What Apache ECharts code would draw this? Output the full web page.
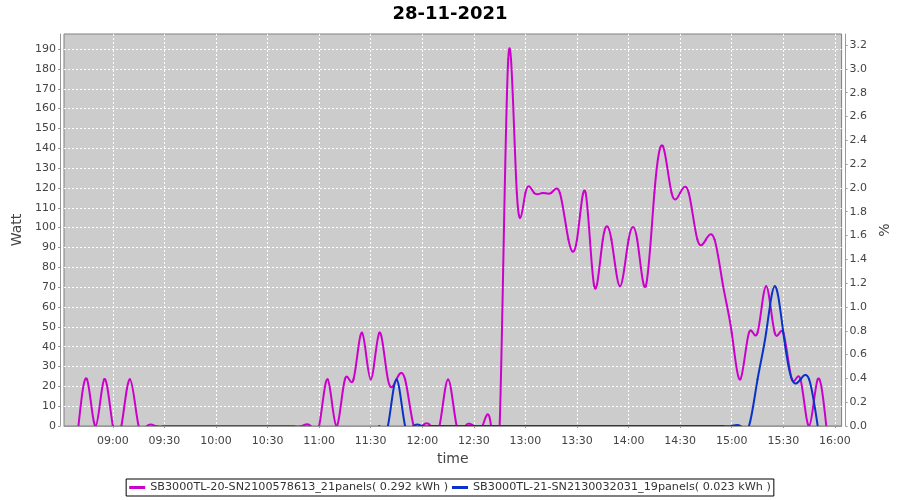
<!DOCTYPE html>
<html>
<head>
<meta charset="utf-8">
<script src="https://cdn.jsdelivr.net/npm/echarts@6/dist/echarts.min.js"></script>
<style>
html,body{margin:0;padding:0;background:#fff;}
#chart{width:900px;height:500px;}
</style>
</head>
<body>
<div id="chart"></div>
<script>
// ---- data ----
const times = [
  '08:40','08:45','08:50','08:55','09:00','09:05','09:10','09:15','09:20','09:25',
  '09:30','09:35','09:40','09:45','09:50','09:55','10:00','10:05','10:10','10:15',
  '10:20','10:25','10:30','10:35','10:40','10:45','10:50','10:55','11:00','11:05',
  '11:10','11:15','11:20','11:25','11:30','11:35','11:40','11:45','11:50','11:55',
  '12:00','12:05','12:10','12:15','12:20','12:25','12:30','12:35','12:40','12:45',
  '12:50','12:55','13:00','13:05','13:10','13:15','13:20','13:25','13:30','13:35',
  '13:40','13:45','13:50','13:55','14:00','14:05','14:10','14:15','14:20','14:25',
  '14:30','14:35','14:40','14:45','14:50','14:55','15:00','15:05','15:10','15:15',
  '15:20','15:25','15:30','15:35','15:40','15:45','15:50','15:55'
];
const inverter20 = [
  0,23.5,0,23.5,0,0,23.5,0,0,0,
  0,0,0,0,0,0,0,0,0,0,
  0,0,0,0,0,0,0,0,0,23.5,
  0,23.5,23.5,47,23.5,47,23.5,23.5,23.5,0,
  0,0,0,23.5,0,0,0,0,0,0,
  185,117.5,117.5,117.5,117.5,117.5,117.5,94,94,117.5,
  70.5,94,94,70.5,94,94,70.5,117.5,141,117.5,
  117.5,117.5,94,94,94,70.5,47,23.5,47,47,
  70.5,47,47,23.5,23.5,0,23.5,0
];
const inverter21 = [
  null,null,null,null,null,null,null,null,null,null,
  null,null,null,null,null,null,null,null,null,null,
  null,null,null,null,null,null,null,null,null,null,
  null,null,null,null,null,0,0,23.5,0,0,
  0,0,0,0,0,0,0,0,0,0,
  0,0,0,0,0,0,0,0,0,0,
  0,0,0,0,0,0,0,0,0,0,
  0,0,0,0,0,0,0,0,0,23.5,
  47,70.5,47,23.5,23.5,23.5,0,null
];
const seriesNames = [
  'SB3000TL-20-SN2100578613_21panels( 0.292 kWh )',
  'SB3000TL-21-SN2130032031_19panels( 0.023 kWh )'
];
const seriesColors = ['#cc00cc', '#0a32c8'];
const xTickLabels = ['09:00','09:30','10:00','10:30','11:00','11:30','12:00','12:30','13:00','13:30','14:00','14:30','15:00','15:30','16:00'];
const wattTicks = [0,10,20,30,40,50,60,70,80,90,100,110,120,130,140,150,160,170,180,190];
const pctTicks = [0,0.2,0.4,0.6,0.8,1.0,1.2,1.4,1.6,1.8,2.0,2.2,2.4,2.6,2.8,3.0,3.2];
const titleText = '28-11-2021';

// ---- helpers ----
function toMin(s){ const p = s.split(':'); return (+p[0])*60 + (+p[1]); }
function pad(n){ return (n<10?'0':'') + n; }
function fmtMin(v){ const m = Math.round(v); return pad(Math.floor(m/60)) + ':' + pad(m%60); }
function pairs(vals){
  const out = [];
  for (let i=0;i<times.length;i++){ if (vals[i] !== null && vals[i] !== undefined) out.push([toMin(times[i]), vals[i]]); }
  return out;
}
// natural cubic spline (x-parameterised), expressed as cubic Bezier control points per segment
function splineSegments(pts){
  const n = pts.length;
  const x = pts.map(p => p[0]), y = pts.map(p => p[1]);
  const h = [];
  for (let i=0;i<n-1;i++) h.push(x[i+1]-x[i]);
  const M = new Array(n).fill(0);
  if (n > 2) {
    const m = n-2;
    const a = new Array(m), b = new Array(m), c = new Array(m), d = new Array(m);
    for (let k=0;k<m;k++){
      const i = k+1;
      a[k] = h[i-1]/6; b[k] = (h[i-1]+h[i])/3; c[k] = h[i]/6;
      d[k] = (y[i+1]-y[i])/h[i] - (y[i]-y[i-1])/h[i-1];
    }
    for (let k=1;k<m;k++){
      const w = a[k]/b[k-1];
      b[k] -= w*c[k-1]; d[k] -= w*d[k-1];
    }
    const sol = new Array(m);
    sol[m-1] = d[m-1]/b[m-1];
    for (let k=m-2;k>=0;k--) sol[k] = (d[k]-c[k]*sol[k+1])/b[k];
    for (let k=0;k<m;k++) M[k+1] = sol[k];
  }
  const segs = [];
  for (let i=0;i<n-1;i++){
    const hi = h[i];
    const sl = (y[i+1]-y[i])/hi;
    const s0 = sl - hi*(2*M[i] + M[i+1])/6;
    const s1 = sl + hi*(M[i] + 2*M[i+1])/6;
    segs.push({
      p0: [x[i], y[i]],
      c1: [x[i] + hi/3, y[i] + hi*s0/3],
      c2: [x[i+1] - hi/3, y[i+1] - hi*s1/3],
      p1: [x[i+1], y[i+1]]
    });
  }
  return segs;
}
function splineSeries(name, vals, color){
  const pts = pairs(vals);
  const segs = splineSegments(pts);
  return {
    name: name, type: 'custom', coordinateSystem: 'cartesian2d',
    xAxisIndex: 0, yAxisIndex: 0, clip: true,
    data: pts, encode: {x: 0, y: 1},
    itemStyle: {color: color},
    renderItem: function(params, api){
      const s = segs[params.dataIndex];
      if (!s) return null;
      const a = api.coord(s.p0), b = api.coord(s.p1), c = api.coord(s.c1), d = api.coord(s.c2);
      return {
        type: 'bezierCurve',
        shape: {x1: a[0], y1: a[1], x2: b[0], y2: b[1], cpx1: c[0], cpy1: c[1], cpx2: d[0], cpy2: d[1]},
        style: {stroke: color, lineWidth: 2, fill: null, lineCap: 'round'}
      };
    }
  };
}
const xTickVals = xTickLabels.map(toMin);
const WATT_MAX = 197.6;
const X_MIN = 511.6, X_MAX = 963.9;
const FONT = 'DejaVu Sans';

const chart = echarts.init(document.getElementById('chart'), null, {renderer:'canvas'});
chart.setOption({
  animation: false,
  backgroundColor: '#ffffff',
  title: {
    text: titleText, left: 'center', top: 0,
    textStyle: {fontSize: 18, fontWeight: 'bold', fontFamily: FONT, color: '#000'}
  },
  grid: {
    left: 64, right: 56.5, top: 34, bottom: 74,
    show: true, backgroundColor: '#cccccc', borderColor: '#808080', borderWidth: 1,
    containLabel: false
  },
  legend: {
    bottom: 4, left: 'center',
    data: seriesNames,
    icon: 'rect', itemWidth: 16, itemHeight: 3, itemGap: 4,
    borderColor: '#000', borderWidth: 1, padding: [3, 3],
    textStyle: {fontSize: 11.2, fontFamily: FONT, color: '#333'}
  },
  xAxis: {
    type: 'value', min: X_MIN, max: X_MAX, offset: 4,
    name: 'time', nameLocation: 'middle', nameGap: 22,
    nameTextStyle: {fontSize: 14, fontFamily: FONT, color: '#444'},
    axisLine: {show: true, lineStyle: {color: '#999'}},
    axisTick: {show: true, length: 2, customValues: xTickVals, lineStyle: {color: '#999'}},
    axisLabel: {customValues: xTickVals, formatter: fmtMin, margin: 6, fontSize: 11, fontFamily: FONT, color: '#444'},
    splitLine: {show: true, lineStyle: {color: '#ffffff', type: [2, 2], width: 1}}
  },
  yAxis: [
    {
      type: 'value', position: 'left', min: 0, max: WATT_MAX, offset: 4,
      name: 'Watt', nameLocation: 'middle', nameGap: 29, nameRotate: 90,
      nameTextStyle: {fontSize: 14, fontFamily: FONT, color: '#444'},
      axisLine: {show: true, lineStyle: {color: '#999'}},
      axisTick: {show: true, length: 2, customValues: wattTicks, lineStyle: {color: '#999'}},
      axisLabel: {customValues: wattTicks, margin: 4, fontSize: 11, fontFamily: FONT, color: '#444'},
      splitLine: {show: true, lineStyle: {color: '#ffffff', type: [2, 2], width: 1}}
    },
    {
      type: 'value', position: 'right', min: 0, max: WATT_MAX/60, offset: 4,
      name: '%', nameLocation: 'middle', nameGap: 20, nameRotate: 90,
      nameTextStyle: {fontSize: 14, fontFamily: FONT, color: '#444'},
      axisLine: {show: true, lineStyle: {color: '#999'}},
      axisTick: {show: true, length: 2, customValues: pctTicks, lineStyle: {color: '#999'}},
      axisLabel: {customValues: pctTicks, formatter: v => v.toFixed(1), margin: 4, fontSize: 11, fontFamily: FONT, color: '#444'},
      splitLine: {show: false}
    }
  ],
  series: [
    splineSeries(seriesNames[0], inverter20, seriesColors[0]),
    splineSeries(seriesNames[1], inverter21, seriesColors[1])
  ]
});
</script>
</body>
</html>
